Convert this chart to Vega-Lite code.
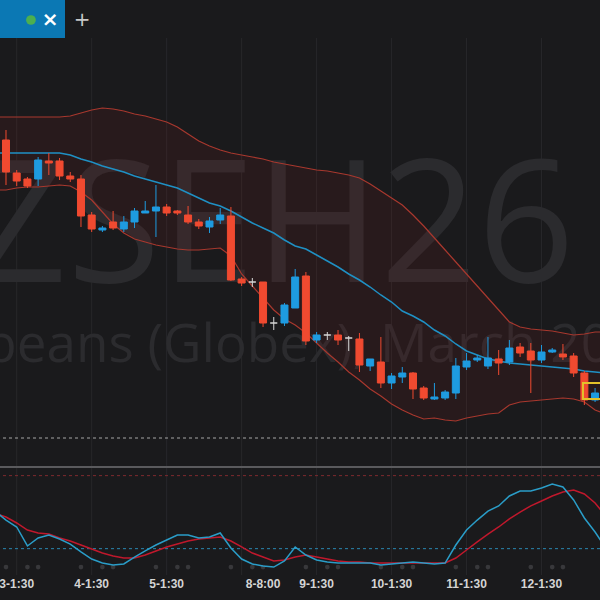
{
  "$schema": "https://vega.github.io/schema/vega-lite/v6.json",
  "width": 600,
  "height": 600,
  "autosize": {"type": "none"},
  "padding": 0,
  "background": "#1a1a1c",
  "config": {"view": {"stroke": null}, "scale": {"continuousPadding": 0}},
  "datasets": {
    "candles": [
      {"i":1,"o":1124.5,"h":1127,"l":1113.25,"c":1116.5},
      {"i":2,"o":1116.25,"h":1117,"l":1113,"c":1114.25},
      {"i":3,"o":1114.75,"h":1115.25,"l":1112.5,"c":1113},
      {"i":4,"o":1114.75,"h":1120.25,"l":1113,"c":1119.5},
      {"i":5,"o":1119.25,"h":1121.25,"l":1115.75,"c":1118.75},
      {"i":6,"o":1119.25,"h":1120,"l":1114.5,"c":1115.5},
      {"i":7,"o":1115.5,"h":1116.5,"l":1114,"c":1114.75},
      {"i":8,"o":1114.75,"h":1115.75,"l":1102.75,"c":1105.5},
      {"i":9,"o":1105.75,"h":1106.5,"l":1101.5,"c":1102.25},
      {"i":10,"o":1102,"h":1103,"l":1101.5,"c":1102.5},
      {"i":11,"o":1104,"h":1106.75,"l":1102,"c":1102.5},
      {"i":12,"o":1102.25,"h":1105.5,"l":1101.5,"c":1104},
      {"i":13,"o":1104,"h":1107.5,"l":1102.5,"c":1106.75},
      {"i":14,"o":1106.25,"h":1109.25,"l":1106.25,"c":1106.75},
      {"i":15,"o":1106.75,"h":1113.25,"l":1100.25,"c":1107.75},
      {"i":16,"o":1107.75,"h":1108.5,"l":1105.5,"c":1106.25},
      {"i":17,"o":1106.75,"h":1107,"l":1105.75,"c":1106.25},
      {"i":18,"o":1105.75,"h":1108,"l":1103.5,"c":1104},
      {"i":19,"o":1104,"h":1104.75,"l":1102.25,"c":1103},
      {"i":20,"o":1102.75,"h":1105.25,"l":1101.25,"c":1104.25},
      {"i":21,"o":1104.5,"h":1107.5,"l":1103.5,"c":1105.75},
      {"i":22,"o":1105.5,"h":1107.75,"l":1089.25,"c":1089.5},
      {"i":23,"o":1089.75,"h":1090.25,"l":1088,"c":1088.75},
      {"i":24,"o":1089,"h":1090,"l":1087.75,"c":1089},
      {"i":25,"o":1089,"h":1089,"l":1077.75,"c":1078.75},
      {"i":26,"o":1078.75,"h":1080.25,"l":1077,"c":1078.75},
      {"i":27,"o":1078.75,"h":1083.75,"l":1078,"c":1083.25},
      {"i":28,"o":1082.5,"h":1092.25,"l":1082.5,"c":1090.25},
      {"i":29,"o":1090.5,"h":1091.5,"l":1073.25,"c":1074.25},
      {"i":30,"o":1074.5,"h":1076.5,"l":1073.75,"c":1075.75},
      {"i":31,"o":1075.75,"h":1076.5,"l":1074.5,"c":1075.75},
      {"i":32,"o":1075.75,"h":1077,"l":1073.25,"c":1074.5},
      {"i":33,"o":1075,"h":1075.5,"l":1071.75,"c":1075},
      {"i":34,"o":1074.75,"h":1076.25,"l":1066.5,"c":1068.25},
      {"i":35,"o":1068,"h":1069.75,"l":1066.75,"c":1069.75},
      {"i":36,"o":1069,"h":1075.25,"l":1062.5,"c":1063.75},
      {"i":37,"o":1063.75,"h":1066.25,"l":1062.25,"c":1065.5},
      {"i":38,"o":1065.25,"h":1067.75,"l":1063.75,"c":1066.25},
      {"i":39,"o":1066.25,"h":1066.5,"l":1059.75,"c":1062.25},
      {"i":40,"o":1062.5,"h":1063,"l":1059.5,"c":1060},
      {"i":41,"o":1059.75,"h":1063.75,"l":1059.5,"c":1060.25},
      {"i":42,"o":1060,"h":1062,"l":1059.5,"c":1061.5},
      {"i":43,"o":1061.25,"h":1070,"l":1059.75,"c":1068},
      {"i":44,"o":1067.75,"h":1071.25,"l":1067,"c":1069.25},
      {"i":45,"o":1069.5,"h":1070.75,"l":1069,"c":1070},
      {"i":46,"o":1068,"h":1075.25,"l":1067.25,"c":1070},
      {"i":47,"o":1069.75,"h":1072,"l":1065.75,"c":1068.75},
      {"i":48,"o":1069,"h":1074.5,"l":1068.25,"c":1072.5},
      {"i":49,"o":1072.75,"h":1073.75,"l":1070.25,"c":1071.25},
      {"i":50,"o":1071.75,"h":1073.75,"l":1061.25,"c":1069.5},
      {"i":51,"o":1069.5,"h":1073.25,"l":1068.75,"c":1071.5},
      {"i":52,"o":1071.5,"h":1072.5,"l":1071.25,"c":1072},
      {"i":53,"o":1071,"h":1073.5,"l":1069.5,"c":1070.25},
      {"i":54,"o":1070.5,"h":1071.25,"l":1065.25,"c":1066.25},
      {"i":55,"o":1066.25,"h":1066.75,"l":1058.25,"c":1059.5},
      {"i":56,"o":1059.5,"h":1062.5,"l":1059,"c":1061.25}
    ],
    "bands": [
      {"i":0.4,"u":1130.25,"m":1121.25,"l":1112},
      {"i":1,"u":1130.25,"m":1121.25,"l":1112},
      {"i":2,"u":1130.25,"m":1121.25,"l":1112.5},
      {"i":3,"u":1130.25,"m":1121.25,"l":1112.75},
      {"i":4,"u":1130.25,"m":1121.25,"l":1112.75},
      {"i":5,"u":1130.25,"m":1121.25,"l":1113},
      {"i":6,"u":1130.25,"m":1121.25,"l":1113.25},
      {"i":7,"u":1130.5,"m":1120.75,"l":1113},
      {"i":8,"u":1131.25,"m":1119.75,"l":1111.5},
      {"i":9,"u":1132,"m":1119,"l":1109.5},
      {"i":10,"u":1132.5,"m":1118,"l":1106.5},
      {"i":11,"u":1132.25,"m":1117.25,"l":1103.5},
      {"i":12,"u":1131.75,"m":1116.5,"l":1101.25},
      {"i":13,"u":1131,"m":1115.5,"l":1099.75},
      {"i":14,"u":1130.5,"m":1114.75,"l":1099},
      {"i":15,"u":1129.75,"m":1114,"l":1098.25},
      {"i":16,"u":1129,"m":1113.25,"l":1097.75},
      {"i":17,"u":1127.75,"m":1112.5,"l":1097.25},
      {"i":18,"u":1126,"m":1111.25,"l":1097},
      {"i":19,"u":1124.25,"m":1110,"l":1097},
      {"i":20,"u":1123,"m":1108.75,"l":1097.25},
      {"i":21,"u":1122,"m":1108,"l":1097.5},
      {"i":22,"u":1121.25,"m":1106.75,"l":1095.5},
      {"i":23,"u":1120.75,"m":1105.25,"l":1091},
      {"i":24,"u":1120.25,"m":1103.75,"l":1088},
      {"i":25,"u":1119.75,"m":1102.5,"l":1085},
      {"i":26,"u":1119,"m":1101.25,"l":1082},
      {"i":27,"u":1118.5,"m":1099.5,"l":1079.75},
      {"i":28,"u":1118,"m":1098,"l":1078.25},
      {"i":29,"u":1117.5,"m":1097.25,"l":1076.25},
      {"i":30,"u":1117,"m":1095.75,"l":1073.75},
      {"i":31,"u":1116.75,"m":1094.25,"l":1071.25},
      {"i":32,"u":1116.25,"m":1092.75,"l":1069},
      {"i":33,"u":1115.75,"m":1091,"l":1066.5},
      {"i":34,"u":1115,"m":1089.5,"l":1064.5},
      {"i":35,"u":1113.5,"m":1087.75,"l":1062.25},
      {"i":36,"u":1111.75,"m":1085.75,"l":1060.5},
      {"i":37,"u":1110,"m":1084,"l":1058.5},
      {"i":38,"u":1108.25,"m":1081.75,"l":1057},
      {"i":39,"u":1105.75,"m":1080.5,"l":1055.75},
      {"i":40,"u":1103,"m":1079,"l":1054.75},
      {"i":41,"u":1100,"m":1077,"l":1055},
      {"i":42,"u":1097,"m":1075.5,"l":1054.5},
      {"i":43,"u":1094,"m":1073.5,"l":1054.25},
      {"i":44,"u":1091,"m":1071.75,"l":1055},
      {"i":45,"u":1088,"m":1070.75,"l":1055.5},
      {"i":46,"u":1085,"m":1069.75,"l":1056},
      {"i":47,"u":1082,"m":1069.25,"l":1056.25},
      {"i":48,"u":1079,"m":1068.75,"l":1058.25},
      {"i":49,"u":1077.75,"m":1068.5,"l":1059},
      {"i":50,"u":1077.25,"m":1068.25,"l":1059.25},
      {"i":51,"u":1077,"m":1068,"l":1059.5},
      {"i":52,"u":1076.75,"m":1067.75,"l":1059.75},
      {"i":53,"u":1076.25,"m":1067.5,"l":1060},
      {"i":54,"u":1075.75,"m":1067.25,"l":1059.75},
      {"i":55,"u":1076,"m":1066.75,"l":1059},
      {"i":56,"u":1076.5,"m":1066.5,"l":1057},
      {"i":57,"u":1076.5,"m":1066.25,"l":1056}
    ],
    "stoch": [
      {"i":0.4,"k":47.7,"d":47.7},
      {"i":1,"k":43.5,"d":46.0},
      {"i":2,"k":37.8,"d":41.1},
      {"i":3,"k":22.2,"d":35.3},
      {"i":4,"k":28.8,"d":32.9},
      {"i":5,"k":31.2,"d":32.0},
      {"i":6,"k":27.9,"d":28.8},
      {"i":7,"k":23.8,"d":26.3},
      {"i":8,"k":17.3,"d":23.0},
      {"i":9,"k":11.5,"d":19.7},
      {"i":10,"k":8.2,"d":16.4},
      {"i":11,"k":6.6,"d":14.0},
      {"i":12,"k":7.4,"d":12.3},
      {"i":13,"k":13.1,"d":12.3},
      {"i":14,"k":18.1,"d":14.8},
      {"i":15,"k":23.0,"d":18.1},
      {"i":16,"k":27.1,"d":21.4},
      {"i":17,"k":31.2,"d":23.8},
      {"i":18,"k":31.2,"d":26.3},
      {"i":19,"k":28.8,"d":27.9},
      {"i":20,"k":29.6,"d":28.8},
      {"i":21,"k":32.9,"d":29.6},
      {"i":22,"k":20.5,"d":26.3},
      {"i":23,"k":11.5,"d":21.4},
      {"i":24,"k":7.4,"d":16.4},
      {"i":25,"k":5.8,"d":13.1},
      {"i":26,"k":4.9,"d":9.9},
      {"i":27,"k":9.9,"d":10.7},
      {"i":28,"k":21.4,"d":13.1},
      {"i":29,"k":14.8,"d":14.8},
      {"i":30,"k":10.7,"d":13.1},
      {"i":31,"k":9.0,"d":11.5},
      {"i":32,"k":8.2,"d":9.9},
      {"i":33,"k":8.2,"d":9.0},
      {"i":34,"k":8.2,"d":9.0},
      {"i":35,"k":8.2,"d":8.2},
      {"i":36,"k":6.6,"d":8.2},
      {"i":37,"k":7.4,"d":8.2},
      {"i":38,"k":8.2,"d":8.2},
      {"i":39,"k":9.0,"d":8.2},
      {"i":40,"k":8.2,"d":8.2},
      {"i":41,"k":7.4,"d":8.2},
      {"i":42,"k":8.2,"d":8.2},
      {"i":43,"k":23.0,"d":12.3},
      {"i":44,"k":35.3,"d":18.9},
      {"i":45,"k":43.5,"d":25.5},
      {"i":46,"k":50.9,"d":32.0},
      {"i":47,"k":55.1,"d":37.8},
      {"i":48,"k":63.3,"d":44.4},
      {"i":49,"k":67.4,"d":50.1},
      {"i":50,"k":67.4,"d":55.1},
      {"i":51,"k":69.8,"d":59.2},
      {"i":52,"k":73.1,"d":63.3},
      {"i":53,"k":70.7,"d":66.6},
      {"i":54,"k":60.0,"d":68.2},
      {"i":55,"k":45.2,"d":64.9},
      {"i":56,"k":33.7,"d":57.5},
      {"i":57,"k":20.5,"d":46.8}
    ],
    "grid": [{"i":2},{"i":9},{"i":16},{"i":23},{"i":30},{"i":37},{"i":44},{"i":51}],
    "labels": [
      {"i":2,"t":"3-1:30"},{"i":9,"t":"4-1:30"},{"i":16,"t":"5-1:30"},{"i":25,"t":"8-8:00"},
      {"i":30,"t":"9-1:30"},{"i":37,"t":"10-1:30"},{"i":44,"t":"11-1:30"},{"i":51,"t":"12-1:30"}
    ],
    "dots": [{"i":1},{"i":3},{"i":4},{"i":8},{"i":10},{"i":11},{"i":15},{"i":17},{"i":18},{"i":22},{"i":24},{"i":25},
             {"i":29},{"i":31},{"i":32},{"i":36},{"i":38},{"i":39},{"i":43},{"i":45},{"i":46},{"i":50},{"i":52},{"i":53}]
  },
  "layer": [
    {
      "layer": [
        {
          "data": {"name": "grid"},
          "mark": {"type": "rule", "color": "#27272a", "strokeWidth": 1},
          "encoding": {
            "x": {"field": "i", "type": "quantitative", "scale": {"domain": [0.44, 56.46], "nice": false, "zero": false, "padding": 0}, "axis": null},
            "y": {"datum": 1150, "type": "quantitative", "scale": {"domain": [1009.5, 1159.5], "nice": false, "zero": false, "padding": 0}, "axis": null},
            "y2": {"datum": 1015.75}
          }
        },
        {
          "data": {"values": [{"t": "ZSEH26"}]},
          "mark": {"type": "text", "align": "right", "baseline": "alphabetic", "font": "Open Sans", "fontSize": 170, "color": "#2b2b2e"},
          "encoding": {
            "x": {"datum": 54.1, "type": "quantitative"},
            "y": {"datum": 1089, "type": "quantitative"},
            "text": {"field": "t"}
          }
        },
        {
          "data": {"values": [{"t": "Soybeans (Globex), March 2026"}]},
          "mark": {"type": "text", "align": "left", "baseline": "alphabetic", "font": "Open Sans", "fontSize": 53, "color": "#2b2b2e"},
          "encoding": {
            "x": {"datum": -9.2, "type": "quantitative"},
            "y": {"datum": 1069, "type": "quantitative"},
            "text": {"field": "t"}
          }
        },
        {
          "data": {"name": "bands"},
          "mark": {"type": "area", "color": "#8c1e1e", "opacity": 0.13},
          "encoding": {
            "x": {"field": "i", "type": "quantitative"},
            "y": {"field": "l", "type": "quantitative"},
            "y2": {"field": "u"}
          }
        },
        {
          "data": {"name": "bands"},
          "mark": {"type": "line", "color": "#a8382e", "strokeWidth": 1.2},
          "encoding": {
            "x": {"field": "i", "type": "quantitative"},
            "y": {"field": "u", "type": "quantitative"}
          }
        },
        {
          "data": {"name": "bands"},
          "mark": {"type": "line", "color": "#a8382e", "strokeWidth": 1.2},
          "encoding": {
            "x": {"field": "i", "type": "quantitative"},
            "y": {"field": "l", "type": "quantitative"}
          }
        },
        {
          "data": {"name": "bands"},
          "mark": {"type": "line", "color": "#1f90c4", "strokeWidth": 1.5},
          "encoding": {
            "x": {"field": "i", "type": "quantitative"},
            "y": {"field": "m", "type": "quantitative"}
          }
        },
        {
          "data": {"values": [{}]},
          "mark": {"type": "rule", "color": "#a5a5a5", "strokeWidth": 1, "strokeDash": [3, 3]},
          "encoding": {"y": {"datum": 1050, "type": "quantitative"}}
        },
        {
          "data": {"values": [{}]},
          "mark": {"type": "rule", "color": "#5a5a5d", "strokeWidth": 2},
          "encoding": {"y": {"datum": 1042.75, "type": "quantitative"}}
        },
        {
          "data": {"name": "candles"},
          "mark": {"type": "rule", "strokeWidth": 1},
          "encoding": {
            "x": {"field": "i", "type": "quantitative"},
            "y": {"field": "l", "type": "quantitative"},
            "y2": {"field": "h"},
            "color": {
              "condition": [
                {"test": "datum.c > datum.o", "value": "#1e9be0"},
                {"test": "datum.c < datum.o", "value": "#f04a30"}
              ],
              "value": "#d6d6d6"
            }
          }
        },
        {
          "data": {"name": "candles"},
          "mark": {"type": "bar", "width": 7, "strokeWidth": 1},
          "encoding": {
            "x": {"field": "i", "type": "quantitative"},
            "y": {"field": "o", "type": "quantitative"},
            "y2": {"field": "c"},
            "color": {
              "condition": [
                {"test": "datum.c > datum.o", "value": "#1e9be0"},
                {"test": "datum.c < datum.o", "value": "#f04a30"}
              ],
              "value": "#d6d6d6"
            },
            "stroke": {
              "condition": [
                {"test": "datum.c > datum.o", "value": "#1e9be0"},
                {"test": "datum.c < datum.o", "value": "#f04a30"}
              ],
              "value": "#d6d6d6"
            }
          }
        },
        {
          "data": {"values": [{}]},
          "mark": {"type": "rect", "fill": null, "fillOpacity": 0, "stroke": "#e3c22a", "strokeWidth": 2},
          "encoding": {
            "x": {"datum": 54.87, "type": "quantitative"},
            "x2": {"datum": 56.93},
            "y": {"datum": 1063.75, "type": "quantitative"},
            "y2": {"datum": 1059.75}
          }
        },
        {
          "data": {"values": [{}]},
          "mark": {"type": "rect", "color": "#0b78b4"},
          "encoding": {
            "x": {"datum": 0.44, "type": "quantitative"},
            "x2": {"datum": 6.51},
            "y": {"datum": 1159.5, "type": "quantitative"},
            "y2": {"datum": 1150}
          }
        },
        {
          "data": {"values": [{}]},
          "mark": {"type": "point", "filled": true, "size": 95, "color": "#4caf50", "opacity": 1},
          "encoding": {
            "x": {"datum": 3.33, "type": "quantitative"},
            "y": {"datum": 1154.5, "type": "quantitative"}
          }
        },
        {
          "data": {"values": [{"t": "×"}]},
          "mark": {"type": "text", "align": "center", "baseline": "middle", "fontSize": 20, "fontWeight": "bold", "font": "DejaVu Sans", "color": "#ffffff"},
          "encoding": {
            "x": {"datum": 5.11, "type": "quantitative"},
            "y": {"datum": 1154.6, "type": "quantitative"},
            "text": {"field": "t"}
          }
        },
        {
          "data": {"values": [{"t": "+"}]},
          "mark": {"type": "text", "align": "center", "baseline": "middle", "fontSize": 20, "font": "DejaVu Sans", "color": "#c8c8c8"},
          "encoding": {
            "x": {"datum": 8.1, "type": "quantitative"},
            "y": {"datum": 1154.6, "type": "quantitative"},
            "text": {"field": "t"}
          }
        }
      ]
    },
    {
      "layer": [
        {
          "data": {"values": [{}]},
          "mark": {"type": "rule", "color": "#7e2a2e", "strokeWidth": 1, "strokeDash": [3, 3]},
          "encoding": {"y": {"datum": 80, "type": "quantitative", "scale": {"domain": [0, 100], "range": [573, 451.3], "nice": false, "zero": false}, "axis": null}}
        },
        {
          "data": {"values": [{}]},
          "mark": {"type": "rule", "color": "#2a86b0", "strokeWidth": 1, "strokeDash": [3, 3]},
          "encoding": {"y": {"datum": 20, "type": "quantitative"}}
        },
        {
          "data": {"name": "dots"},
          "mark": {"type": "point", "filled": true, "size": 22, "color": "#38383b", "opacity": 1},
          "encoding": {
            "x": {"field": "i", "type": "quantitative"},
            "y": {"datum": 4.9, "type": "quantitative"}
          }
        },
        {
          "data": {"name": "stoch"},
          "mark": {"type": "line", "color": "#c0182c", "strokeWidth": 1.5},
          "encoding": {
            "x": {"field": "i", "type": "quantitative"},
            "y": {"field": "d", "type": "quantitative"}
          }
        },
        {
          "data": {"name": "stoch"},
          "mark": {"type": "line", "color": "#2a9dc8", "strokeWidth": 1.5},
          "encoding": {
            "x": {"field": "i", "type": "quantitative"},
            "y": {"field": "k", "type": "quantitative"}
          }
        },
        {
          "data": {"name": "labels"},
          "mark": {"type": "text", "align": "center", "baseline": "middle", "font": "Liberation Sans", "fontSize": 12, "fontWeight": "bold", "color": "#d4d4d4"},
          "encoding": {
            "x": {"field": "i", "type": "quantitative"},
            "y": {"datum": -9, "type": "quantitative"},
            "text": {"field": "t"}
          }
        }
      ]
    }
  ],
  "resolve": {"scale": {"y": "independent"}}
}
